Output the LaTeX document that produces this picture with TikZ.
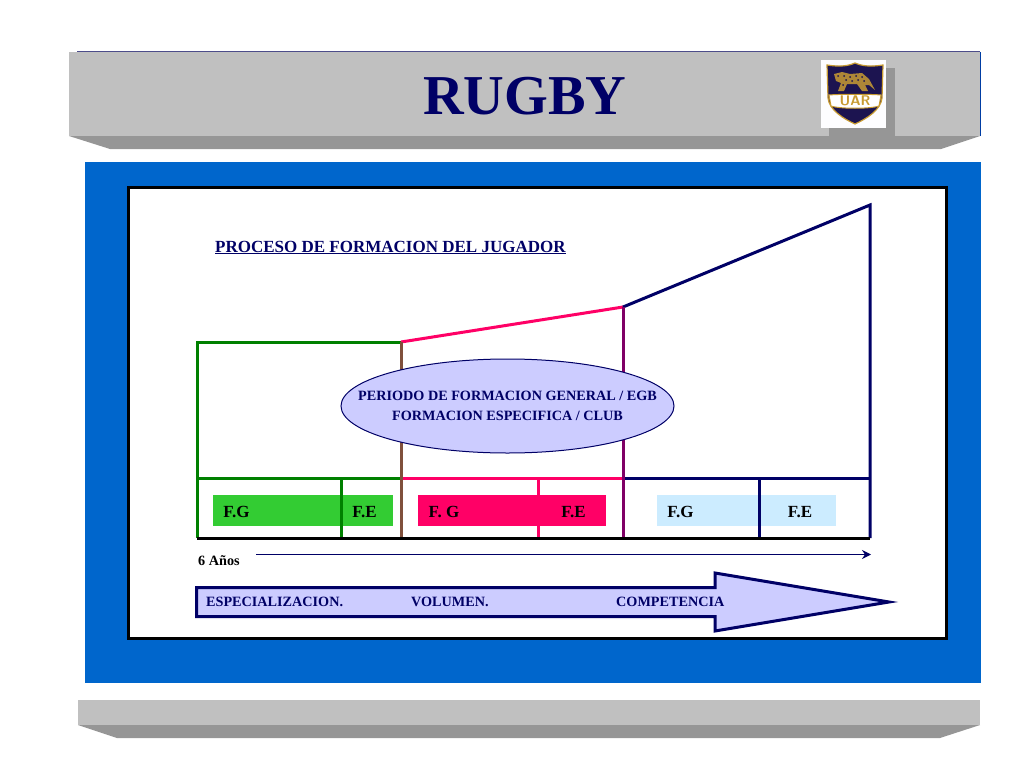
\documentclass[tikz,border=0pt]{standalone}
\usepackage{fontspec}
\setmainfont{Liberation Serif}
\usetikzlibrary{arrows.meta}
\usetikzlibrary{shapes.geometric}
\definecolor{barface}{HTML}{C0C0C0}
\definecolor{barshade}{HTML}{969696}
\definecolor{panelblue}{HTML}{0066CC}
\definecolor{navyline}{HTML}{000066}
\definecolor{lilacfill}{HTML}{CCCCFF}
\definecolor{chartgreen}{HTML}{008000}
\definecolor{chartpink}{HTML}{FF0066}
\definecolor{fillgreen}{HTML}{33CC33}
\definecolor{fillsky}{HTML}{CCECFF}
\definecolor{joinbrown}{HTML}{80503C}
\definecolor{joinpurple}{HTML}{800066}
\definecolor{shieldgold}{HTML}{C89B32}
\definecolor{shieldnavy}{HTML}{1C1450}
\tikzset{
    label/.style={font=\bfseries\fontsize{14.2}{16}\selectfont,text=navyline,inner sep=0pt},
    phase/.style={font=\bfseries\fontsize{17}{18}\selectfont,text=black,inner sep=0pt},
    stroke/.style={line width=3pt,line join=miter}
}

\begin{document}
\begin{tikzpicture}[x=1pt,y=-1pt]
    \useasboundingbox (0,0) rectangle (1024,768);

    % top bar
    \fill[barface] (69,52) rectangle (980,136);
    \fill[barshade] (69,136) -- (980,136) -- (941,149) -- (110,149) -- cycle;
    \draw[navyline!60!barface,line width=1pt] (77,52) -- (980,52);
    \draw[panelblue!60!navyline,line width=1pt] (980,52) -- (980,136);
    \node[font=\bfseries\fontsize{56.3}{60}\selectfont,text=navyline,inner sep=0pt] (title) at (525,96) {RUGBY};

    % logo
    \fill[barshade] (829,68) rectangle (895,136);
    \fill[white!96!lilacfill] (821,60) rectangle (886,128);
    \fill[shieldnavy,draw=shieldgold,line width=1.2pt] (827,65) .. controls (840,67) and (848,66) .. (855,63)
        .. controls (862,66) and (870,67) .. (883,65) -- (882,98)
        .. controls (881,110) and (866,119) .. (855,124)
        .. controls (844,119) and (829,110) .. (828,98) -- cycle;
    \fill[white,draw=shieldgold,line width=1pt] (829,95) .. controls (840,94) and (870,94) .. (881,95) -- (879,106)
        .. controls (870,109) and (840,109) .. (831,106) -- cycle;
    \fill[shieldgold!85!shieldnavy] (834,74) -- (842,72) -- (850,74) -- (862,73) -- (869,79) -- (875,90) -- (869,85) -- (865,85)
        -- (868,91) -- (862,91) -- (857,84) -- (847,84) -- (844,91) -- (838,91) -- (841,83) -- (836,81) -- cycle;
    \foreach \spotx/\spoty in {838/76,844/76,850/77,856/76,862/77,846/80,852/81,858/80,864/81,843/85}
        \fill[shieldnavy] (\spotx,\spoty) circle (1pt);
    \node[font=\sffamily\bfseries\fontsize{14}{14}\selectfont,text=shieldgold,inner sep=0pt] (uar) at (855,101) {UAR};

    % blue panel and frame
    \fill[panelblue] (85,162) rectangle (981,683);
    \draw[fill=white,line width=3pt,draw=black] (128.5,187.5) rectangle (946.5,638.5);

    \node[inner sep=0pt,anchor=base west,text=navyline,font=\bfseries\fontsize{17}{18}\selectfont] (heading) at (215,252) {\underline{PROCESO DE FORMACION DEL JUGADOR}};

    % the coloured bars behind the dividers
    \fill[fillgreen] (213,495) rectangle (393,526);
    \fill[chartpink] (418,495) rectangle (606,526);
    \fill[fillsky] (657,495) rectangle (836,526);

    \coordinate (gt) at (197,342);
    \coordinate (gm) at (197,478);
    \coordinate (gb) at (197,538);
    \coordinate (pt) at (401,342);
    \coordinate (pm) at (401,478);
    \coordinate (pb) at (401,538);
    \coordinate (nt) at (623,307);
    \coordinate (nm) at (623,478);
    \coordinate (nb) at (623,538);
    \coordinate (et) at (870,205);
    \coordinate (em) at (870,478);
    \coordinate (eb) at (870,538);

    \begin{scope}[every path/.style={stroke}]
        \draw[chartgreen] (pt) -- (gt) -- (gb);
        \draw[chartgreen] (gm) -- (pm);
        \draw[chartgreen] (341,478) -- (341,538);
        \draw[chartpink] (pt) -- (nt);
        \draw[chartpink] (pm) -- (nm);
        \draw[chartpink] (538,478) -- (538,538);
        \draw[navyline] (nt) -- (et) -- (eb);
        \draw[navyline] (nm) -- (em);
        \draw[navyline] (759,478) -- (759,538);
        \draw[joinbrown] (pt) -- (pb);
        \draw[joinpurple] (nt) -- (nb);
        \draw[black] (gb) -- (eb);
    \end{scope}

    \node[ellipse,draw=navyline,fill=lilacfill,line width=1pt,minimum width=333pt,minimum height=94pt,inner sep=0pt] (periodo) at (507.5,406) {};
    \node[label] (general) at (507.5,396) {PERIODO DE FORMACION GENERAL / EGB};
    \node[label] (especifica) at (507.5,416) {FORMACION ESPECIFICA / CLUB};

    \begin{scope}[every node/.style={phase}]
        \node (fg1) at (236.5,512) {F.G};
        \node (fe1) at (364.5,512) {F.E};
        \node (fg2) at (444,512) {F. G};
        \node (fe2) at (573.5,512) {F.E};
        \node (fg3) at (680.5,512) {F.G};
        \node (fe3) at (800,512) {F.E};
    \end{scope}

    \node[font=\bfseries\fontsize{14.2}{16}\selectfont,inner sep=0pt,anchor=west] (anos) at (198,561) {6 Años};
    \coordinate (timestart) at (256,554.5);
    \coordinate (timeend) at (871,554.5);
    \draw[navyline,line width=1.3pt,-{Stealth[length=9pt,width=9pt]}] (timestart) -- (timeend);

    % big arrow
    \draw[fill=lilacfill,draw=navyline,line width=3pt,miter limit=10] (196.5,587.5) -- (715,587.5) -- (715,573) -- (889,602) -- (715,631) -- (715,616.5) -- (196.5,616.5) -- cycle;
    \node[label,anchor=west] (espec) at (206,602) {ESPECIALIZACION.};
    \node[label,anchor=west] (volumen) at (411,602) {VOLUMEN.};
    \node[label,anchor=west] (compet) at (616,602) {COMPETENCIA};

    % bottom bar
    \fill[barface] (78,700) rectangle (980,725);
    \fill[barshade] (78,725) -- (980,725) -- (940,738) -- (117,738) -- cycle;
\end{tikzpicture}
\end{document}
